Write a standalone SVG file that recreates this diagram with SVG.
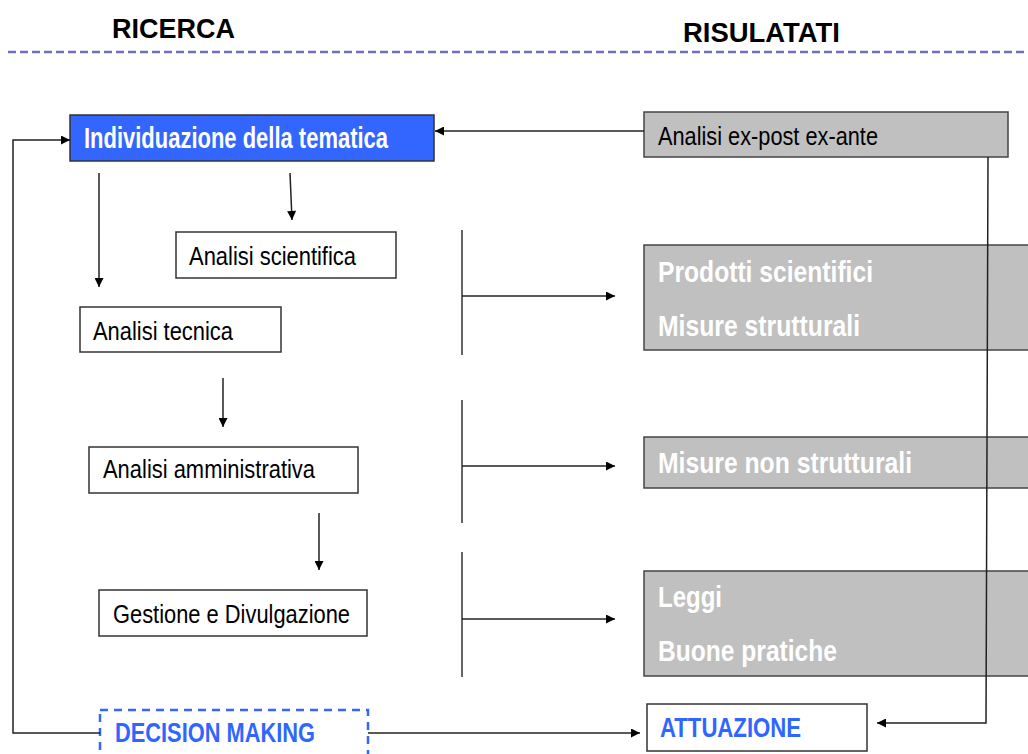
<svg xmlns="http://www.w3.org/2000/svg" width="1028" height="754" viewBox="0 0 1028 754">
<style>
.hdr{font-family:"Liberation Sans Narrow","Liberation Sans",Arial,sans-serif;font-weight:bold;font-size:27px;fill:#000}
.reg{font-family:"Liberation Sans Narrow","Liberation Sans",Arial,sans-serif;font-size:26px;fill:#000}
.bw{font-family:"Liberation Sans Narrow","Liberation Sans",Arial,sans-serif;font-weight:bold;font-size:29px;fill:#fff}
.bb{font-family:"Liberation Sans Narrow","Liberation Sans",Arial,sans-serif;font-weight:bold;font-size:27px;fill:#2f66ff}
.box{fill:#fff;stroke:#333;stroke-width:1.5}
.gbox{fill:#c0c0c0;stroke:#444;stroke-width:1.5}
.ln{fill:none;stroke:#333;stroke-width:1.5}
.arr{fill:none;stroke:#222;stroke-width:1.5;marker-end:url(#ah)}
</style>
<defs>
<marker id="ah" viewBox="0 0 10 10" refX="10" refY="5" markerWidth="10" markerHeight="9" markerUnits="userSpaceOnUse" orient="auto">
<path d="M0,0 L10,5 L0,10 z" fill="#000"/>
</marker>
</defs>
<rect width="1028" height="754" fill="#fff"/>
<g id="headers">
<text class="hdr" x="112" y="38" textLength="123" lengthAdjust="spacingAndGlyphs">RICERCA</text>
<text class="hdr" x="683" y="42" textLength="157" lengthAdjust="spacingAndGlyphs">RISULATATI</text>
<line x1="8" y1="52" x2="1028" y2="52" stroke="#6f6fbf" stroke-width="2.5" stroke-dasharray="8 4"/>
</g>
<g id="n-individuazione">
<rect x="70" y="115" width="364" height="46" fill="#3366ff" stroke="#333" stroke-width="1.5"/>
<text class="bw" x="84" y="148" textLength="304" lengthAdjust="spacingAndGlyphs">Individuazione della tematica</text>
</g>
<g id="n-scientifica">
<rect class="box" x="176" y="232" width="220" height="46"/>
<text class="reg" x="189" y="265" textLength="167" lengthAdjust="spacingAndGlyphs">Analisi scientifica</text>
</g>
<g id="n-tecnica">
<rect class="box" x="80" y="307" width="201" height="45"/>
<text class="reg" x="93" y="340" textLength="140" lengthAdjust="spacingAndGlyphs">Analisi tecnica</text>
</g>
<g id="n-amministrativa">
<rect class="box" x="89" y="447" width="269" height="46"/>
<text class="reg" x="103" y="478" textLength="212" lengthAdjust="spacingAndGlyphs">Analisi amministrativa</text>
</g>
<g id="n-gestione">
<rect class="box" x="99" y="590" width="268" height="46"/>
<text class="reg" x="113" y="623" textLength="237" lengthAdjust="spacingAndGlyphs">Gestione e Divulgazione</text>
</g>
<g id="n-decision">
<rect x="100" y="710" width="268" height="60" fill="#fff" stroke="#3366ff" stroke-width="2.5" stroke-dasharray="8 6"/>
<text class="bb" x="115" y="742" textLength="200" lengthAdjust="spacingAndGlyphs">DECISION MAKING</text>
</g>
<g id="n-expost">
<rect class="gbox" x="644" y="112" width="364" height="45"/>
<text class="reg" x="658" y="145" textLength="220" lengthAdjust="spacingAndGlyphs">Analisi ex-post ex-ante</text>
</g>
<g id="n-prodotti">
<rect class="gbox" x="644" y="245" width="400" height="105"/>
<text class="bw" x="658" y="282" textLength="215" lengthAdjust="spacingAndGlyphs">Prodotti scientifici</text>
<text class="bw" x="658" y="336" textLength="202" lengthAdjust="spacingAndGlyphs">Misure strutturali</text>
</g>
<g id="n-nonstrutturali">
<rect class="gbox" x="644" y="437" width="400" height="51"/>
<text class="bw" x="658" y="473" textLength="254" lengthAdjust="spacingAndGlyphs">Misure non strutturali</text>
</g>
<g id="n-leggi">
<rect class="gbox" x="644" y="571" width="400" height="105"/>
<text class="bw" x="658" y="607" textLength="64" lengthAdjust="spacingAndGlyphs">Leggi</text>
<text class="bw" x="658" y="661" textLength="179" lengthAdjust="spacingAndGlyphs">Buone pratiche</text>
</g>
<g id="n-attuazione">
<rect class="box" x="647" y="704" width="220" height="47"/>
<text class="bb" x="660" y="737" textLength="141" lengthAdjust="spacingAndGlyphs">ATTUAZIONE</text>
</g>
<g id="connectors">
<line class="arr" x1="644" y1="131" x2="435" y2="131"/>
<polyline class="arr" points="100,733 13,733 13,140 70,140"/>
<line class="arr" x1="99" y1="173" x2="99" y2="287"/>
<line class="arr" x1="290" y1="173" x2="292" y2="220"/>
<line class="arr" x1="223" y1="378" x2="223" y2="427"/>
<line class="arr" x1="319" y1="513" x2="319" y2="570"/>
<line class="ln" x1="462" y1="230" x2="462" y2="355"/>
<line class="arr" x1="462" y1="296" x2="615" y2="296"/>
<line class="ln" x1="462" y1="400" x2="462" y2="523"/>
<line class="arr" x1="462" y1="466" x2="615" y2="466"/>
<line class="ln" x1="462" y1="552" x2="462" y2="677"/>
<line class="arr" x1="462" y1="619" x2="615" y2="619"/>
<line class="arr" x1="368" y1="733" x2="640" y2="733"/>
<polyline class="arr" points="988,157 986,723 877,723"/>
</g>
</svg>
